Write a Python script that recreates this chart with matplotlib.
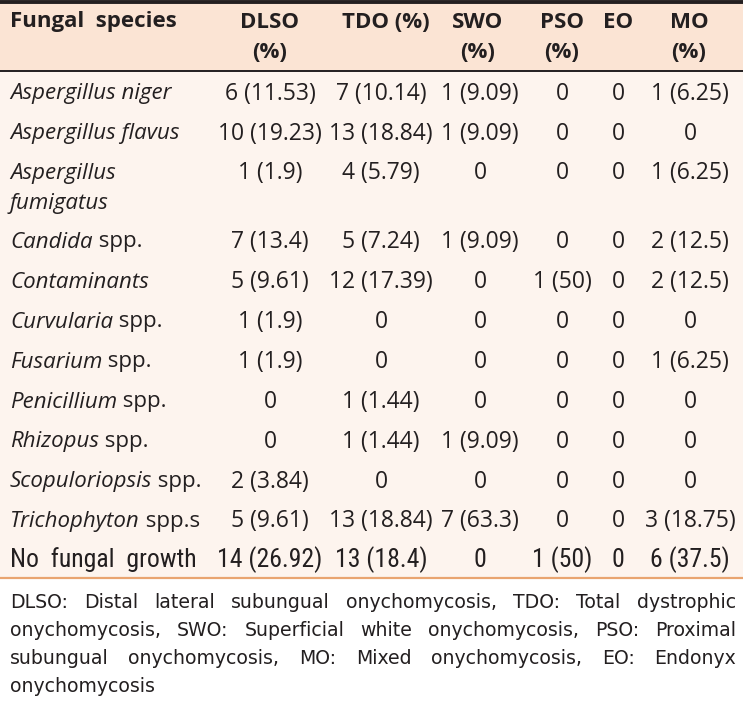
import matplotlib.pyplot as plt

# table contents
species_italic = ["Aspergillus niger", "Aspergillus flavus", "Aspergillus\nfumigatus", "Candida",
                  "Contaminants", "Curvularia", "Fusarium", "Penicillium", "Rhizopus",
                  "Scopuloriopsis", "Trichophyton", ""]
species_plain = ["", "", "", " spp.", "", " spp.", " spp.", " spp.", " spp.", " spp.", " spp.s",
                 "No  fungal  growth"]
headers = ["DLSO\n(%)", "TDO (%)", "SWO\n(%)", "PSO\n(%)", "EO", "MO\n(%)"]
dlso = ["6 (11.53)", "10 (19.23)", "1 (1.9)", "7 (13.4)", "5 (9.61)", "1 (1.9)", "1 (1.9)",
        "0", "0", "2 (3.84)", "5 (9.61)", "14 (26.92)"]
tdo = ["7 (10.14)", "13 (18.84)", "4 (5.79)", "5 (7.24)", "12 (17.39)", "0", "0",
       "1 (1.44)", "1 (1.44)", "0", "13 (18.84)", "13 (18.4)"]
swo = ["1 (9.09)", "1 (9.09)", "0", "1 (9.09)", "0", "0", "0", "0", "1 (9.09)", "0",
       "7 (63.3)", "0"]
pso = ["0", "0", "0", "0", "1 (50)", "0", "0", "0", "0", "0", "0", "1 (50)"]
eo = ["0"] * 12
mo = ["1 (6.25)", "0", "1 (6.25)", "2 (12.5)", "2 (12.5)", "0", "1 (6.25)", "0", "0", "0",
      "3 (18.75)", "6 (37.5)"]
footnote = ["DLSO: Distal lateral subungual onychomycosis, TDO: Total dystrophic",
            "onychomycosis, SWO: Superficial white onychomycosis, PSO: Proximal",
            "subungual onychomycosis, MO: Mixed onychomycosis, EO: Endonyx",
            "onychomycosis"]

# layout (pixels)
W, H = 746, 707
col_x = [270, 381, 480, 562, 618, 690]
head_x = [270, 386, 478, 562, 618, 689]
row_y = [94, 134, 173, 242, 282, 322, 362, 402, 442, 482, 521, 560]
ink = "#231f20"
body_font = "Open Sans"
narrow = ["Liberation Sans Narrow", "Roboto Condensed", "DejaVu Sans"]
fs = 16

fig = plt.figure(figsize=(W / 100, H / 100), dpi=100)
ax = fig.add_axes([0, 0, 1, 1])
ax.set_xlim(0, W)
ax.set_ylim(H, 0)
ax.axis("off")

ax.add_patch(plt.Rectangle((0, 0), 743, 70, color="#fbe4d4", lw=0))
ax.add_patch(plt.Rectangle((0, 70), 743, 508, color="#fdf4ee", lw=0))
ax.plot([0, 743], [1.8, 1.8], color=ink, lw=2.8, solid_capstyle="butt")
ax.plot([0, 743], [70.5, 70.5], color=ink, lw=1.4, solid_capstyle="butt")
ax.plot([0, 743], [578, 578], color="#e9a470", lw=1.6, solid_capstyle="butt")

# header
ax.text(10, 22, "Fungal  species", fontsize=fs, fontweight="bold", family=body_font,
        color=ink, va="center", ha="left")
for hx, h in zip(head_x, headers):
    for j, part in enumerate(h.split("\n")):
        ax.text(hx, 22 + 31 * j, part, fontsize=fs, fontweight="bold", family=body_font,
                color=ink, va="center", ha="center")

fig.canvas.draw()
renderer = fig.canvas.get_renderer()
inv = ax.transData.inverted()

# species column
for y, it, pl in zip(row_y, species_italic, species_plain):
    x = 10
    if it:
        for j, part in enumerate(it.split("\n")):
            t = ax.text(x, y + 30 * j, part, fontsize=fs, style="italic",
                        family=body_font, color=ink, va="center", ha="left")
        bb = t.get_window_extent(renderer)
        x = inv.transform((bb.x1, 0))[0]
    if pl:
        if it:
            ax.text(x, y, pl, fontsize=fs, family=body_font, color=ink,
                    va="center", ha="left")
        else:
            ax.text(x, y, pl, fontsize=18.5, family=narrow, color=ink,
                    va="center", ha="left")

# value columns
for cx, col in zip(col_x, [dlso, tdo, swo, pso, eo, mo]):
    for i, (y, v) in enumerate(zip(row_y, col)):
        last = i == len(row_y) - 1
        ax.text(cx, y, v, fontsize=18.5 if last else 16.5,
                family=narrow if last else body_font, color=ink, va="center", ha="center")

# footnote, justified
foot_y = [602, 630, 659, 687]
left, right = 10, 736
for k, (y, line) in enumerate(zip(foot_y, footnote)):
    words = line.split(" ")
    arts = [ax.text(0, y, w, fontsize=13.6, family="DejaVu Sans", color=ink, va="center",
                    ha="left") for w in words]
    fig.canvas.draw()
    widths = []
    for a in arts:
        bb = a.get_window_extent(renderer)
        x0, x1 = inv.transform((bb.x0, 0))[0], inv.transform((bb.x1, 0))[0]
        widths.append(x1 - x0)
    if k < len(footnote) - 1 and len(words) > 1:
        gap = (right - left - sum(widths)) / (len(words) - 1)
    else:
        gap = 6
    x = left
    for a, w in zip(arts, widths):
        a.set_x(x)
        x += w + gap

fig.savefig("out.png", dpi=100, facecolor="white")
